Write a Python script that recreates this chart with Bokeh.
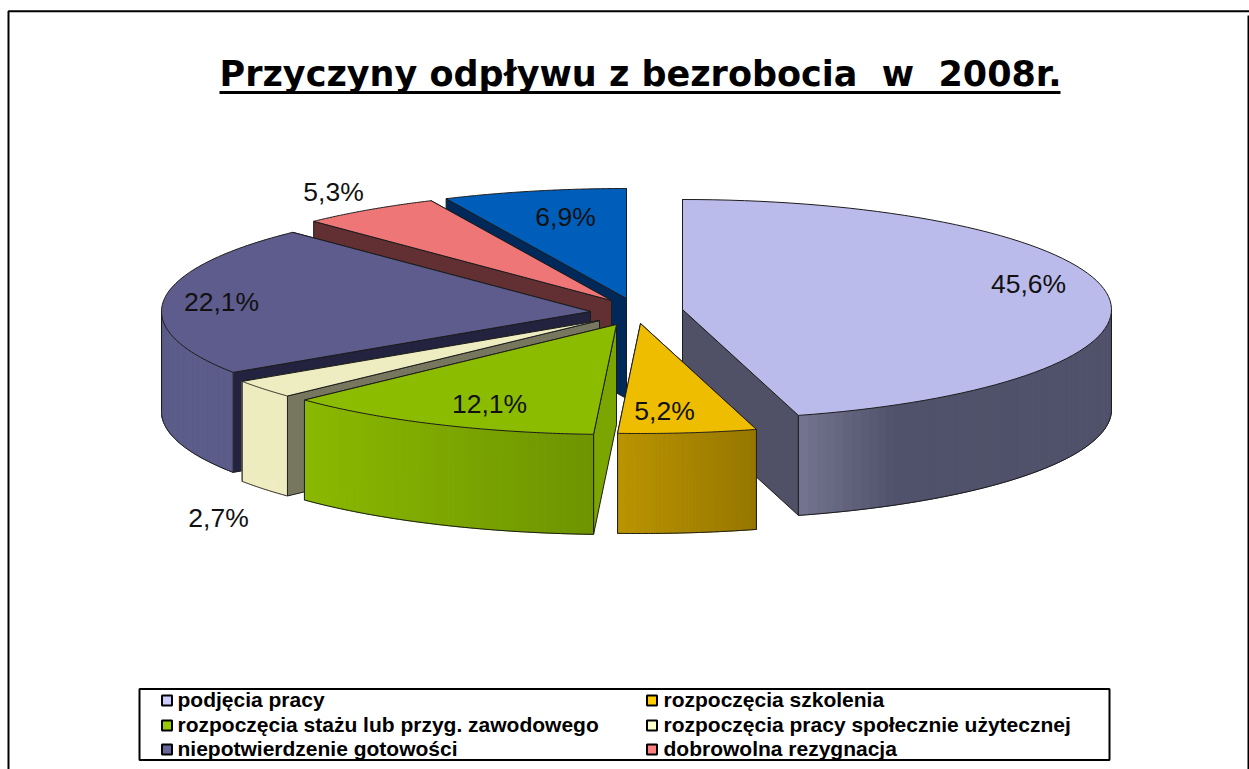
import numpy as np
from bokeh.plotting import figure
from bokeh.models import Range1d
from bokeh.core.properties import value
from bokeh.embed import file_html
from bokeh.resources import INLINE

# ---- data ----
title = "Przyczyny odpływu z bezrobocia\u00a0 w\u00a0 2008r."
categories = ["podjęcia pracy", "rozpoczęcia szkolenia",
              "rozpoczęcia stażu lub przyg. zawodowego",
              "rozpoczęcia pracy społecznie użytecznej",
              "niepotwierdzenie gotowości", "dobrowolna rezygnacja", "inne"]
shares = [45.6, 5.2, 12.1, 2.7, 22.1, 5.3, 6.9]

# ---- styles & layout (screen pixels) ----
top_col = ["#bbbbeb", "#eebd00", "#8cbc00", "#eeedc1", "#5d5c8d", "#ee7677", "#005ebb"]
side_col = ["#505066", "#967700", "#7ba500", "#777760", "#232340", "#622f33", "#002858"]
wall_left = ["#73738f", "#bb9400", "#8bb900", "#eeecc0", "#5c5c8a", "#622f33", "#002858"]
wall_right = ["#50516a", "#967700", "#6e9400", "#eeecc0", "#5c5c8a", "#622f33", "#002858"]
legend_col = ["#ccccff", "#ffcc00", "#99cc00", "#ffffcc", "#666699", "#ff8080"]
apex_x = [682, 640, 616, 599, 590, 611, 626]
apex_y = [309, 323, 324, 320, 311, 300, 298]
label_x = [1028, 664, 489, 218, 221, 333, 565]
label_y = [283, 410, 403, 517, 301, 191, 216]
paint_order = [6, 5, 4, 3, 2, 0, 1]
RX, RY, DEPTH = 429, 110, 100
OUT = "#1c1c1c"

p = figure(width=1249, height=769, x_range=Range1d(0, 1249), y_range=Range1d(769, 0),
           toolbar_location=None, output_backend="svg", min_border=0,
           background_fill_color="white", border_fill_color="white")
p.axis.visible = False
p.grid.visible = False
p.outline_line_color = None

# frame
p.line([8, 8, 1249], [769, 10.8, 10.8], line_color="black", line_width=2)
p.line([1248, 1248], [15, 769], line_color="black", line_width=2)

# title
p.text([640], [73], text=[title], text_font=value("DejaVu Sans"), text_font_style="bold",
       text_font_size="35px", text_align="center", text_baseline="middle", text_color="black")
p.line([219, 1060], [92, 92], line_color="black", line_width=3)

# pie geometry comes from the shares
edges = np.concatenate([[0], np.cumsum(shares)]) / sum(shares) * 2 * np.pi


def pt(i, t):
    return apex_x[i] + RX * np.sin(t), apex_y[i] - RY * np.cos(t)


for i in paint_order:
    t0, t1 = edges[i], edges[i + 1]
    ax, ay = apex_x[i], apex_y[i]
    # radial walls
    for t in (t1, t0):
        x, y = pt(i, t)
        p.patch([ax, x, x, ax], [ay, y, y + DEPTH, ay + DEPTH], fill_color=side_col[i],
                line_color=OUT, line_width=1)
    # outer wall, shaded in strips from left to right
    front0, front1 = max(t0, np.pi / 2), min(t1, 3 * np.pi / 2)
    if front1 > front0:
        ts = np.linspace(front0, front1, 60)
        xs, ys = pt(i, ts)
        lo, hi = xs.min(), xs.max()
        span = (hi - lo) * (0.3 if i == 0 else 1.0)
        c0 = np.array([int(wall_left[i][k:k + 2], 16) for k in (1, 3, 5)])
        c1 = np.array([int(wall_right[i][k:k + 2], 16) for k in (1, 3, 5)])
        for k in range(len(ts) - 1):
            f = min(1.0, (min(xs[k], xs[k + 1]) - lo) / span)
            c = c0 + (c1 - c0) * f
            col = "#%02x%02x%02x" % tuple(int(v) for v in c)
            p.patch([xs[k], xs[k + 1], xs[k + 1], xs[k]],
                    [ys[k], ys[k + 1], ys[k + 1] + DEPTH, ys[k] + DEPTH],
                    fill_color=col, line_color=col, line_width=1)
        p.line(xs, ys + DEPTH, line_color=OUT, line_width=1)
        p.line([xs[0], xs[0]], [ys[0], ys[0] + DEPTH], line_color=OUT, line_width=1)
        p.line([xs[-1], xs[-1]], [ys[-1], ys[-1] + DEPTH], line_color=OUT, line_width=1)
    # top face
    ts = np.linspace(t0, t1, 80)
    xs, ys = pt(i, ts)
    p.patch(np.r_[ax, xs], np.r_[ay, ys], fill_color=top_col[i], line_color=OUT, line_width=1)

# percentage labels
labels = [f"{v:.1f}%".replace(".", ",") for v in shares]
p.text(label_x, label_y, text=labels, text_font=value("Liberation Sans"),
       text_font_size="26.5px", text_align="center", text_baseline="middle", text_color="#111111")

# legend
p.quad(left=[139], right=[1109], top=[688.5], bottom=[759.5], fill_color="white",
       line_color="black", line_width=2)
leg_rows = [699, 699, 724, 724, 748, 748]
leg_mark = [166.5, 651.5] * 3
leg_text = [177, 663] * 3
p.rect(leg_mark, [700, 700, 725, 725, 749, 749], width=10, height=10, fill_color=legend_col,
       line_color="black", line_width=2)
p.text(leg_text, leg_rows, text=categories[:6], text_font=value("Liberation Sans"),
       text_font_style="bold", text_font_size="21px", text_align="left", text_baseline="middle",
       text_color="black")

open("out.html", "w").write(file_html(p, INLINE))
